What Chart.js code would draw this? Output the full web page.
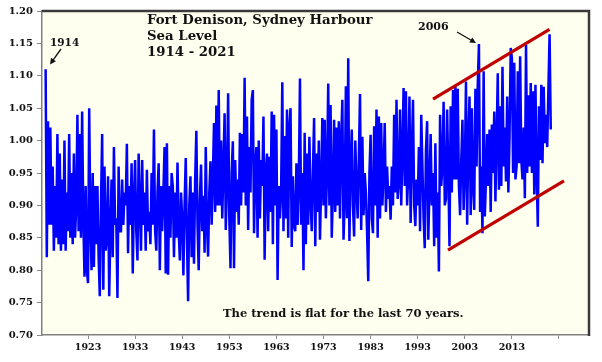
<!DOCTYPE html>
<html>
<head>
<meta charset="utf-8">
<script src="https://cdn.jsdelivr.net/npm/chart.js@4.4.0/dist/chart.umd.min.js"></script>
<style>
  body { margin: 0; background: #fff; }
  #wrap { width: 602px; height: 362px; }
</style>
</head>
<body>
<div id="wrap"><canvas id="seaChart" width="602" height="362"></canvas></div>
<script>
// Fort Denison sea level (m), 4 readings per year from 1914
var startYear = 1914
var perYear = 4
var seaLevel = [
  1.11, 0.82, 1.03, 0.87,
  1.02, 0.87, 0.96, 0.83,
  0.93, 0.85, 1.01, 0.84,
  0.98, 0.83, 0.94, 0.84,
  1.00, 0.83, 0.92, 0.86,
  1.01, 0.85, 0.95, 0.84,
  0.98, 0.85, 0.90, 1.04,
  0.86, 1.01, 0.85, 1.045,
  0.88, 0.79, 0.93, 0.80,
  0.78, 1.05, 0.87, 0.80,
  0.95, 0.805, 0.93, 0.84,
  0.93, 0.82, 0.76, 0.90,
  1.01, 0.77, 0.96, 0.83,
  0.85, 0.945, 0.76, 0.86,
  0.94, 0.82, 0.99, 0.87,
  0.88, 0.757, 0.96, 0.86,
  0.86, 0.94, 0.87, 0.92,
  0.90, 0.995, 0.826, 0.93,
  0.87, 0.965, 0.795, 0.91,
  0.97, 0.86, 0.815, 0.98,
  0.90, 0.83, 0.97, 0.87,
  0.92, 0.83, 0.955, 0.86,
  0.89, 0.84, 0.95, 0.87,
  1.017, 0.86, 0.83, 0.92,
  0.965, 0.80, 0.93, 0.86,
  0.92, 0.99, 0.795, 0.996,
  0.793, 0.93, 0.85, 0.95,
  0.93, 0.82, 0.92, 0.85,
  0.966, 0.86, 0.815, 0.92,
  0.88, 0.792, 0.90, 0.973,
  0.85, 0.752, 0.90, 0.945,
  0.82, 0.92, 0.81, 0.94,
  1.015, 0.87, 0.80, 0.91,
  0.963, 0.86, 0.915, 0.827,
  0.99, 0.87, 0.821, 0.92,
  0.968, 0.87, 0.94, 1.027,
  0.89, 1.054, 0.90, 1.078,
  0.90, 1.00, 0.88, 0.96,
  1.042, 0.862, 0.93, 1.073,
  0.88, 0.803, 0.95, 0.999,
  0.803, 0.97, 0.89, 0.94,
  0.87, 1.012, 0.90, 1.01,
  0.92, 1.097, 0.90, 1.037,
  0.862, 0.99, 0.92, 1.063,
  1.078, 0.857, 0.96, 0.99,
  0.85, 1.00, 0.88, 0.97,
  0.93, 1.037, 0.816, 0.95,
  0.98, 0.86, 0.975, 0.89,
  1.045, 0.84, 1.04, 0.90,
  1.017, 0.785, 0.93, 0.88,
  0.92, 1.09, 0.86, 1.007,
  0.88, 1.048, 0.85, 1.02,
  1.05, 0.836, 0.945, 0.87,
  0.86, 0.965, 0.87, 0.93,
  1.096, 0.87, 0.95, 0.80,
  1.012, 0.84, 0.98, 0.87,
  1.006, 0.91, 0.86, 0.95,
  1.035, 0.837, 0.98, 0.89,
  1.00, 0.847, 0.93, 1.035,
  0.90, 1.032, 0.88, 0.95,
  1.088, 0.90, 1.055, 0.85,
  0.92, 1.032, 0.89, 1.02,
  0.90, 1.03, 0.88, 1.00,
  1.063, 0.847, 0.91, 1.084,
  0.88, 1.127, 0.845, 0.96,
  1.017, 0.90, 0.852, 1.00,
  0.93, 0.88, 0.97, 1.072,
  0.862, 1.006, 0.885, 0.95,
  0.92, 0.86, 0.783, 0.95,
  1.009, 0.88, 0.857, 1.022,
  0.90, 1.048, 0.85, 1.037,
  0.88, 1.027, 0.90, 0.95,
  1.027, 0.89, 0.96, 0.91,
  0.93, 0.878, 0.96, 0.90,
  1.04, 0.92, 1.063, 0.91,
  0.935, 1.048, 0.90, 0.98,
  1.081, 0.93, 1.076, 0.90,
  0.95, 1.068, 0.873, 0.98,
  1.063, 0.90, 0.868, 0.94,
  0.90, 0.99, 0.86, 1.04,
  0.96, 0.88, 0.834, 0.985,
  1.03, 0.847, 0.93, 1.01,
  0.90, 0.95, 0.837, 0.996,
  0.85, 0.92, 0.798, 1.04,
  0.93, 0.96, 1.06, 0.90,
  0.91, 1.048, 0.95, 0.837,
  1.053, 0.92, 1.078, 0.94,
  1.083, 0.94, 1.08, 0.93,
  0.885, 0.97, 1.032, 0.893,
  0.95, 1.091, 0.87, 1.00,
  1.068, 0.885, 1.05, 0.93,
  0.893, 1.08, 0.96, 1.086,
  1.149, 0.89, 0.96, 0.857,
  1.107, 0.883, 0.94, 1.01,
  0.93, 1.017, 0.89, 1.025,
  0.95, 1.045, 0.906, 1.00,
  1.104, 0.924, 1.053, 0.93,
  1.114, 0.96, 1.02, 0.937,
  1.068, 0.92, 1.006, 1.143,
  1.127, 0.95, 1.12, 0.94,
  0.96, 1.107, 0.965, 1.13,
  0.97, 0.94, 1.02, 0.911,
  1.148, 0.95, 1.07, 0.96,
  1.089, 0.95, 1.076, 0.917,
  1.086, 0.95, 0.867, 1.053,
  0.97, 1.086, 0.965, 1.083,
  0.996, 1.04, 0.99, 1.08,
  1.164, 1.017
]

var xTicks = [1923, 1933, 1943, 1953, 1963, 1973, 1983, 1993, 2003, 2013, 2023]
var yTicks = [0.70, 0.75, 0.80, 0.85, 0.90, 0.95, 1.00, 1.05, 1.10, 1.15, 1.20]

// the two red lines drawn by hand on the original (year, level)
var upperChannel = [{x: 1996.25, y: 1.064}, {x: 2020.98, y: 1.1715}]
var lowerChannel = [{x: 1999.43, y: 0.831}, {x: 2024.06, y: 0.9377}]

var titleLines = ['Fort Denison, Sydney Harbour', 'Sea Level', '1914 - 2021']
var note = 'The trend is flat for the last 70 years.'

var points = seaLevel.map(function(v, i){
  return {x: startYear + i / perYear, y: v}
})

var serif = "'DejaVu Serif', 'Liberation Serif', serif"

function arrow(ctx, x1, y1, x2, y2){
  var ang = Math.atan2(y2 - y1, x2 - x1)
  ctx.beginPath()
  ctx.moveTo(x1, y1)
  ctx.lineTo(x2 - 4 * Math.cos(ang), y2 - 4 * Math.sin(ang))
  ctx.stroke()
  ctx.beginPath()
  ctx.moveTo(x2, y2)
  ctx.lineTo(x2 - 6 * Math.cos(ang) + 3 * Math.sin(ang), y2 - 6 * Math.sin(ang) - 3 * Math.cos(ang))
  ctx.lineTo(x2 - 6 * Math.cos(ang) - 3 * Math.sin(ang), y2 - 6 * Math.sin(ang) + 3 * Math.cos(ang))
  ctx.closePath()
  ctx.fill()
}

var decor = {
  id: 'decor',
  beforeDraw: function(chart){
    var a = chart.chartArea, ctx = chart.ctx
    ctx.save()
    ctx.fillStyle = '#fffff0'
    ctx.fillRect(a.left, a.top, a.right - a.left, a.bottom - a.top)
    ctx.restore()
  },
  afterDraw: function(chart){
    var a = chart.chartArea, ctx = chart.ctx
    ctx.save()
    // dark frame on top and right
    ctx.strokeStyle = '#3a3a3a'
    ctx.lineWidth = 2.5
    ctx.beginPath()
    ctx.moveTo(a.left, a.top)
    ctx.lineTo(a.right, a.top)
    ctx.lineTo(a.right, a.bottom + 1)
    ctx.stroke()

    ctx.fillStyle = '#111'
    ctx.textAlign = 'left'
    ctx.textBaseline = 'alphabetic'
    ctx.font = 'bold 13.3px ' + serif
    titleLines.forEach(function(t, i){
      ctx.fillText(t, 147, 24 + i * 16)
    })
    ctx.font = 'bold 10.5px ' + serif
    ctx.fillText('1914', 50, 46)
    ctx.font = 'bold 11px ' + serif
    ctx.fillText('2006', 418, 30)
    ctx.font = 'bold 11.5px ' + serif
    ctx.fillText(note, 223, 317)

    ctx.strokeStyle = '#111'
    ctx.lineWidth = 1.3
    arrow(ctx, 61, 49, 50, 64.5)
    arrow(ctx, 457, 32, 476, 43)
    ctx.restore()
  }
}

var seaChart = new Chart(document.querySelector('#seaChart'), {
  type: 'line',
  data: {
    datasets: [{
      data: upperChannel,
      borderColor: '#c00000',
      borderWidth: 3.2,
      pointRadius: 0,
      order: 0
    }, {
      data: lowerChannel,
      borderColor: '#c00000',
      borderWidth: 3.2,
      pointRadius: 0,
      order: 0
    }, {
      label: 'Sea level',
      data: points,
      borderColor: '#0000ff',
      borderWidth: 2.5,
      pointRadius: 0,
      tension: 0,
      order: 1
    }]
  },
  options: {
    responsive: false,
    animation: false,
    devicePixelRatio: 1,
    layout: {padding: {top: 11, right: 13, bottom: 0, left: 0}},
    plugins: {legend: {display: false}, tooltip: {enabled: false}, title: {display: false}},
    scales: {
      x: {
        type: 'linear',
        min: 1913.23,
        max: 2029.37,
        afterBuildTicks: function(scale){
          scale.ticks = xTicks.map(function(v){ return {value: v} })
        },
        afterFit: function(scale){ scale.height = 27 },
        grid: {drawOnChartArea: false, drawTicks: true, tickLength: 4, color: '#8a8a8a'},
        border: {display: true, color: '#808080', width: 1.5},
        ticks: {
          autoSkip: false,
          maxRotation: 0,
          padding: 3,
          color: '#111',
          font: {family: serif, weight: 'bold', size: 9.5},
          callback: function(v){ return v <= 2013 ? String(v) : '' }
        }
      },
      y: {
        min: 0.70,
        max: 1.20,
        afterBuildTicks: function(scale){
          scale.ticks = yTicks.map(function(v){ return {value: v} })
        },
        afterFit: function(scale){ scale.width = 42 },
        grid: {drawOnChartArea: false, drawTicks: true, tickLength: 5, color: '#8a8a8a'},
        border: {display: true, color: '#808080', width: 1.5},
        ticks: {
          padding: 4,
          color: '#111',
          font: {family: serif, weight: 'bold', size: 10},
          callback: function(v){ return v.toFixed(2) }
        }
      }
    }
  },
  plugins: [decor]
})
</script>
</body>
</html>
